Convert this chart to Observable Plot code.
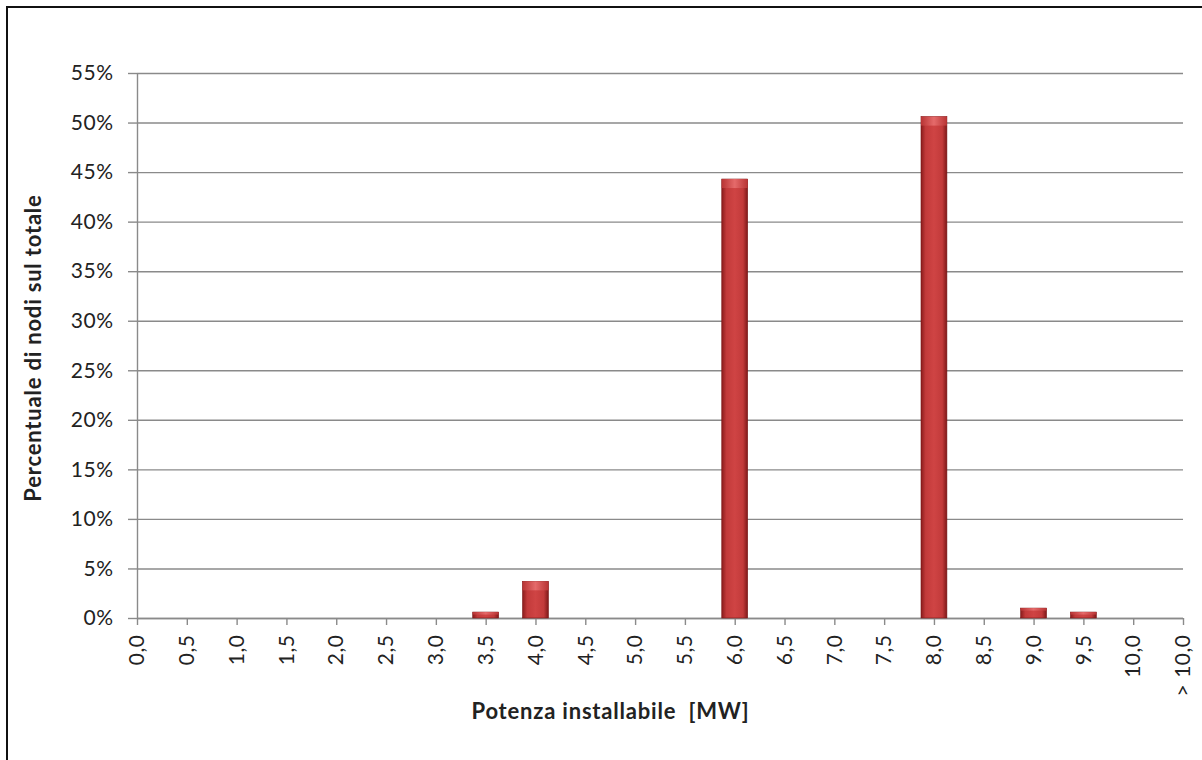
<!DOCTYPE html>
<html>
<head>
<meta charset="utf-8">
<script src="https://cdn.jsdelivr.net/npm/d3@7"></script>
<script src="https://cdn.jsdelivr.net/npm/@observablehq/plot@0.6"></script>
<style>
  html, body { margin: 0; padding: 0; background: #fff; overflow: hidden; }
  #wrap { position: relative; width: 1202px; height: 760px; overflow: hidden; background: #fff; }
  #frame { position: absolute; left: 6px; top: 6px; width: 1400px; height: 1000px;
           border-left: 2px solid #111; border-top: 2px solid #111; box-sizing: border-box; }
  #chart { position: absolute; left: 0; top: 0; }
  #chart svg text { letter-spacing: 0.5px; }
  #chart svg text.title { letter-spacing: 0.8px; }
</style>
</head>
<body>
<div id="wrap"><div id="frame"></div><div id="chart"></div></div>
<script>
// Categories (installable power, MW)
const categories = ["0,0","0,5","1,0","1,5","2,0","2,5","3,0","3,5","4,0","4,5","5,0","5,5",
                    "6,0","6,5","7,0","7,5","8,0","8,5","9,0","9,5","10,0","> 10,0"];
// Share of nodes on total (fraction)
const shares = [0,0,0,0,0,0,0,0.006,0.037,0,0,0,0.443,0,0,0,0.506,0,0.010,0.006,0,0];
const yTicks = [0,0.05,0.10,0.15,0.20,0.25,0.30,0.35,0.40,0.45,0.50,0.55];
const yTitle = "Percentuale di nodi sul totale";
const xTitle = "Potenza installabile  [MW]";

const data = categories.map((c, i) => ({i, cat: c, v: shares[i]}));
const bars = data.filter(d => d.v > 0);
const half = 0.26;
const font = "Lato, 'Open Sans', sans-serif";

const plot = Plot.plot({
  width: 1202,
  height: 760,
  marginLeft: 137,
  marginRight: 19,
  marginTop: 73,
  marginBottom: 142,
  style: {fontFamily: font, fontSize: "21px", color: "#222", background: "transparent"},
  x: {type: "linear", domain: [0, categories.length - 1], axis: null},
  y: {domain: [0, 0.55], axis: null},
  marks: [
    Plot.gridY(yTicks, {stroke: "#8a8a8a", strokeOpacity: 1, strokeWidth: 1.4}),
    Plot.axisY(yTicks, {tickFormat: d => Math.round(d * 100) + "%", tickSize: 9, tickPadding: 15,
      stroke: "#8a8a8a", strokeWidth: 1.4, label: null, fill: "#222"}),
    Plot.axisX(d3.range(categories.length), {tickFormat: i => categories[i], tickSize: 7, tickPadding: 9,
      tickRotate: -90, stroke: "#8a8a8a", strokeWidth: 1.4, label: null, fill: "#222"}),
    Plot.ruleX([0], {stroke: "#8a8a8a", strokeWidth: 1.4}),
    Plot.ruleY([0], {stroke: "#8a8a8a", strokeWidth: 1.4}),
    Plot.rectY(bars, {x1: d => d.i - half, x2: d => d.i + half, y1: 0, y2: "v", fill: "url(#barGrad)",
      stroke: "#7a1616", strokeWidth: 0.6}),
    Plot.rectY(bars.filter(d => d.v > 0.02), {x1: d => d.i - half, x2: d => d.i + half, y1: "v", y2: "v",
      insetBottom: -9, fill: "url(#topGrad)"}),
    Plot.rectY(bars.filter(d => d.v <= 0.02), {x1: d => d.i - half, x2: d => d.i + half, y1: "v", y2: "v",
      insetBottom: -2.5, fill: "url(#topGrad)"}),
    Plot.text([yTitle], {frameAnchor: "left", dx: -104, dy: 2, rotate: -90, textAnchor: "middle",
      fontWeight: "bold", fontSize: 22, fill: "#222", className: "ytitle"}),
    Plot.text([xTitle], {frameAnchor: "bottom", dx: -50, dy: 100, textAnchor: "middle",
      fontWeight: "bold", fontSize: 22, fill: "#222", className: "xtitle"})
  ]
});

plot.querySelectorAll(".ytitle text, .xtitle text, text.ytitle, text.xtitle").forEach(t => t.classList.add("title"));
plot.querySelectorAll("g.ytitle, g.xtitle").forEach(g => g.querySelectorAll("text").forEach(t => t.classList.add("title")));

const ns = "http://www.w3.org/2000/svg";
const defs = document.createElementNS(ns, "defs");
defs.innerHTML = `
  <linearGradient id="barGrad" x1="0" y1="0" x2="1" y2="0">
    <stop offset="0" stop-color="#8a1c1c"/>
    <stop offset="0.18" stop-color="#c23a3a"/>
    <stop offset="0.5" stop-color="#cf4444"/>
    <stop offset="0.82" stop-color="#c23a3a"/>
    <stop offset="1" stop-color="#7e1818"/>
  </linearGradient>
  <linearGradient id="topGrad" x1="0" y1="0" x2="1" y2="0">
    <stop offset="0" stop-color="#b83434"/>
    <stop offset="0.5" stop-color="#e56a6a"/>
    <stop offset="1" stop-color="#b83434"/>
  </linearGradient>`;
plot.insertBefore(defs, plot.firstChild);
document.getElementById("chart").appendChild(plot);
</script>
</body>
</html>
